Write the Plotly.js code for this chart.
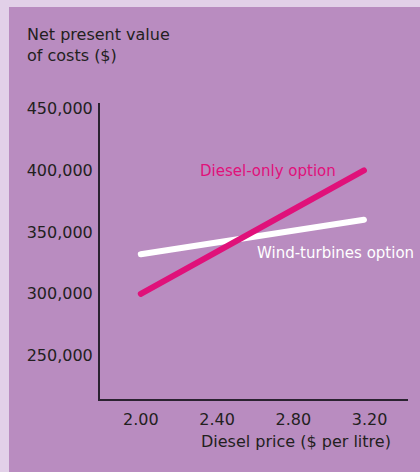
<!DOCTYPE html>
<html>
<head>
<meta charset="utf-8">
<script src="https://cdn.plot.ly/plotly-3.0.1.min.js"></script>
<style>
  html, body { margin: 0; padding: 0; background: #e2d0e8; width: 420px; height: 472px; overflow: hidden; }
  #chart { position: absolute; left: 9px; top: 7px; width: 411px; height: 465px; }
</style>
</head>
<body>
<div id="chart"></div>
<script>
// Data
const dieselPrice = [2.00, 3.17];
const dieselOnly = [300000, 400000];
const windTurbines = [332000, 360000];
const xTickVals = [2.00, 2.40, 2.80, 3.20];
const xTickText = ['2.00', '2.40', '2.80', '3.20'];
const yTickVals = [250000, 300000, 350000, 400000, 450000];
const yTickText = ['250,000', '300,000', '350,000', '400,000', '450,000'];

const FONT = 'DejaVu Sans, sans-serif';
const DARK = '#231f20';

const traces = [
  { x: dieselPrice, y: windTurbines, mode: 'lines', name: 'Wind-turbines option',
    line: { color: '#ffffff', width: 6 }, hoverinfo: 'skip' },
  { x: dieselPrice, y: dieselOnly, mode: 'lines', name: 'Diesel-only option',
    line: { color: '#e0117a', width: 6 }, hoverinfo: 'skip' }
];

const layout = {
  width: 411, height: 465,
  margin: { l: 91, r: 12, t: 96, b: 73, pad: 0 },
  paper_bgcolor: '#b98cc0',
  plot_bgcolor: '#b98cc0',
  showlegend: false,
  font: { family: FONT, size: 16, color: DARK },
  xaxis: {
    range: [1.786, 3.401], showgrid: false, zeroline: false,
    showline: true, linecolor: '#2a2230', linewidth: 2,
    tickmode: 'array', tickvals: xTickVals, ticktext: xTickText,
    ticks: '', ticklabelstandoff: 5,
    tickfont: { family: FONT, size: 16, color: DARK }
  },
  yaxis: {
    range: [214750, 454600], showgrid: false, zeroline: false,
    showline: true, linecolor: '#2a2230', linewidth: 2,
    tickmode: 'array', tickvals: yTickVals, ticktext: yTickText,
    ticks: '', ticklabelstandoff: 2,
    tickfont: { family: FONT, size: 16, color: DARK }
  },
  annotations: [
    { text: 'Net present value<br>of costs ($)', xref: 'paper', yref: 'paper',
      x: -0.2435, y: 1.1976, xanchor: 'left', yanchor: 'middle', align: 'left',
      showarrow: false, font: { family: FONT, size: 16, color: DARK } },
    { text: 'Diesel price ($ per litre)', xref: 'paper', yref: 'paper',
      x: 0.9513, y: -0.1419, xanchor: 'right', yanchor: 'middle',
      showarrow: false, font: { family: FONT, size: 16, color: DARK } },
    { text: 'Diesel-only option', xref: 'paper', yref: 'paper',
      x: 0.5455, y: 0.770, xanchor: 'center', yanchor: 'middle',
      showarrow: false, font: { family: FONT, size: 15, color: '#e0117a' } },
    { text: 'Wind-turbines option', xref: 'paper', yref: 'paper',
      x: 0.7646, y: 0.4932, xanchor: 'center', yanchor: 'middle',
      showarrow: false, font: { family: FONT, size: 15, color: '#ffffff' } }
  ]
};

Plotly.newPlot('chart', traces, layout, { displayModeBar: false, staticPlot: true }).then(function (gd) {
  gd.querySelectorAll('.scatterlayer .js-line').forEach(function (p) {
    p.style.strokeLinecap = 'round';
  });
});
</script>
</body>
</html>
